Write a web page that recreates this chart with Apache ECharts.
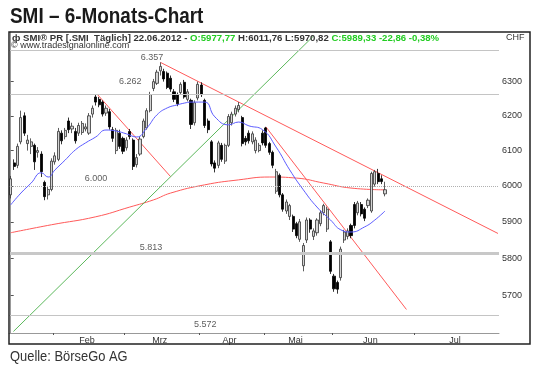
<!DOCTYPE html>
<html><head><meta charset="utf-8">
<script src="https://cdn.jsdelivr.net/npm/echarts@6/dist/echarts.min.js"></script>
<style>html,body{margin:0;padding:0;background:#fff}#c{width:540px;height:372px}</style>
</head><body><div id="c"></div>
<script>
// ---- Daily candles (SMI, 13.01.2012 - 22.06.2012) ----
const opens = [5975,6065,6058,6125,6200,6120,6112,6115,6095,6090,6010,5975,5990,6068,6075,6150,6140,6185,6162,6155,6150,6152,6162,6150,6205,6255,6248,6240,6208,6212,6160,6100,6150,6135,6108,6155,6130,6060,6090,6140,6165,6215,6280,6295,6332,6330,6325,6310,6270,6262,6268,6298,6248,6245,6180,6252,6290,6245,6185,6125,6065,6058,6115,6070,6115,6180,6205,6218,6195,6135,6150,6125,6100,6100,6150,6165,6120,6095,5985,6030,5975,5930,5915,5915,5895,5852,5780,5850,5905,5860,5870,5895,5925,5880,5845,5752,5735,5748,5850,5860,5890,5948,5925,5948,5935,5945,5930,6005,6035,6020,5977.77];
const closes = [6020,6055,6112,6195,6150,6130,6125,6068,6100,6040,5970,5990,6070,6085,6155,6128,6158,6160,6170,6128,6172,6178,6168,6200,6222,6240,6232,6205,6222,6168,6135,6158,6112,6098,6130,6140,6055,6080,6133,6185,6215,6262,6300,6328,6345,6308,6283,6278,6248,6235,6292,6255,6270,6175,6238,6292,6262,6172,6160,6062,6050,6122,6075,6115,6198,6205,6222,6230,6120,6125,6128,6148,6130,6115,6122,6115,6095,6058,6040,5975,5935,5955,5945,5880,5862,5900,5835,5905,5880,5875,5905,5925,5945,5935,5765,5718,5717,5825,5872,5875,5862,5890,5952,5922,5910,5960,6035,6040,6012,6012.19,5989.33];
const lows = [5965,6045,6050,6118,6142,6100,6090,6045,6080,6025,5960,5962,5985,6060,6070,6118,6132,6150,6150,6120,6142,6145,6155,6145,6195,6230,6225,6198,6200,6160,6125,6090,6105,6090,6100,6132,6045,6052,6085,6135,6160,6210,6272,6290,6318,6300,6278,6270,6240,6228,6262,6250,6242,6162,6172,6245,6255,6165,6150,6055,6038,6050,6068,6062,6110,6172,6198,6210,6112,6115,6120,6118,6092,6095,6115,6108,6088,6050,5978,5968,5928,5922,5905,5872,5855,5845,5765,5842,5870,5850,5862,5888,5918,5872,5758,5710,5705,5740,5842,5852,5855,5882,5918,5915,5902,5938,5925,5998,6005,6005,5970.82];
const highs = [6028,6075,6120,6215,6210,6145,6135,6120,6110,6098,6015,6000,6078,6095,6165,6158,6165,6195,6180,6165,6180,6185,6178,6208,6230,6262,6255,6245,6230,6220,6168,6165,6160,6140,6138,6162,6135,6090,6140,6192,6222,6270,6308,6335,6357,6338,6330,6318,6278,6268,6298,6305,6278,6250,6245,6300,6298,6250,6192,6130,6072,6128,6122,6120,6205,6212,6230,6240,6200,6142,6158,6155,6138,6122,6158,6168,6125,6100,6048,6035,5980,5962,5950,5920,5900,5908,5842,5912,5910,5882,5910,5932,5950,5942,5850,5758,5740,5832,5878,5882,5895,5955,5958,5955,5940,5965,6040,6045,6048,6030,6011.76];

// ---- Calendar (trading days, SIX holidays) ----
const firstDay = '2012-01-13';
const holidays = ['2012-04-06','2012-04-09','2012-05-01','2012-05-17','2012-05-28'];
const slotCount = 144;

// ---- Axis ticks / labels ----
const yTicks = [5700,5800,5900,6000,6100,6200,6300];
const monthLabels = ['Feb','Mrz','Apr','Mai','Jun','Jul'];
const monthTickPos = [12.5,33.5,55.5,74.5,94.5,118.5];
const monthLabelPos = [22.4,43.8,64.3,83.7,105.7,130.6];

// ---- Indicators ----
const maShortIdx = [0,3,6,9,11,13,16,19,22,25,28,31,34,37,40,43,46,49,51,53,57,60,64,67,70,74,78,82,86,90,94,97,100,104,107,110];
const maShortVal = [5947,5980,6008,6037,6025,6045,6073,6102,6122,6139,6159,6156,6148,6139,6165,6203,6223,6232,6237,6240,6240,6197,6174,6182,6171,6160,6110,6045,5989,5941,5905,5878,5872,5886,5905,5930];
const maLongIdx = [0,12,25,35,42,47,57,67,76,84,92,100,110];
const maLongVal = [5870,5892,5914,5941,5961,5980,6003,6017,6025,6022,6008,5994,5989];

// trend lines: [index, value] endpoints
const trendRed1 = [[25.5,6262],[47,6026]];
const trendRed2 = [[44,6357],[143.2,5868]];
const trendRed3 = [[75,6168],[116.3,5663]];
const trendGreen = [[0.8,5605],[89,6436]];

// horizontal levels
const levelTop = 6392, level6262 = 6262, level6000 = 6000, level5813 = 5813, levelLow = 5649;
const levelTexts = ['6.357','6.262','6.000','5.813','5.572'];
const levelTextIdx = [41.5,35.1,25.1,41.2,57.2];
const levelTextVal = [6371,6299,6020,5829,5622];

// build dates
function buildDates(){
  const out=[]; const d=new Date(firstDay+'T12:00:00Z');
  while(out.length<slotCount){
    const wd=d.getUTCDay(); const s=d.toISOString().slice(0,10);
    if(wd!==0&&wd!==6&&holidays.indexOf(s)<0) out.push(s);
    d.setUTCDate(d.getUTCDate()+1);
  }
  return out;
}
const dates = buildDates();
const candles = opens.map((o,i)=>[o,closes[i],lows[i],highs[i]]);
const fmt = v => v.toFixed(2).replace('.',',');
const last = opens.length-1;
const chg = closes[last]-closes[last-1];
const pct = chg/closes[last-1]*100;
const d = dates[last].split('-');
const headerDate = d[2]+'.'+d[1]+'.'+d[0];

const FONT = 'Liberation Sans, Arial, sans-serif';
const chart = echarts.init(document.getElementById('c'), null, {renderer:'canvas'});
chart.setOption({
  animation:false,
  backgroundColor:'#fff',
  title:[
    {text:'{k|ф SMI® PR [.SMI  Täglich] '+headerDate+' - }{g|O:'+fmt(opens[last])+' }{k|H:'+fmt(highs[last])+' L:'+fmt(lows[last])+' }{g|C:'+fmt(closes[last])+' '+fmt(chg)+' '+fmt(pct)+'%}',
     left:12, top:33, padding:0,
     textStyle:{rich:{k:{fontFamily:FONT,fontSize:9.6,color:'#333'},g:{fontFamily:FONT,fontSize:9.6,color:'#22cc22'}}}},
    {text:'© www.tradesignalonline.com', left:11, top:41, padding:0, textStyle:{fontFamily:FONT,fontSize:9,fontWeight:'normal',color:'#333'}},
    {text:'CHF', left:506, top:33, padding:0, textStyle:{fontFamily:FONT,fontSize:9,fontWeight:'normal',color:'#333'}}
  ],
  graphic:[
    {type:'text', left:10, top:6, scaleX:0.86, style:{text:'SMI – 6-Monats-Chart', font:'bold 22px '+FONT, fill:'#1a1a1a'}},
    {type:'text', left:10, top:349, scaleX:0.86, style:{text:'Quelle: BörseGo AG', font:'15px '+FONT, fill:'#333'}},
    {type:'rect', shape:{x:9,y:32,width:521,height:312}, style:{fill:'none',stroke:'#222',lineWidth:1.5}, z:100}
  ],
  grid:{left:9, right:41, top:32, bottom:39, containLabel:false},
  xAxis:[
    {type:'category', data:dates, boundaryGap:true, show:false},
    {type:'value', min:-0.5, max:slotCount-0.5, position:'bottom',
     axisLine:{show:true, lineStyle:{color:'#999',width:1}},
     axisTick:{show:true, customValues:monthTickPos, length:2, lineStyle:{color:'#555'}},
     axisLabel:{show:true, customValues:monthLabelPos, margin:3, fontSize:9, fontFamily:FONT, color:'#333',
       formatter:v=>{const k=monthLabelPos.findIndex(p=>Math.abs(p-v)<0.01); return k>=0?monthLabels[k]:'';}},
     splitLine:{show:false}}
  ],
  yAxis:[{type:'log', logBase:10, min:5601, max:6448, position:'right',
    axisLine:{show:true, lineStyle:{color:'#999'}},
    axisTick:{show:true, customValues:yTicks, length:3, lineStyle:{color:'#555'}},
    axisLabel:{show:true, customValues:yTicks, margin:3, fontSize:9, fontFamily:FONT, color:'#333', formatter:v=>String(Math.round(v))},
    splitLine:{show:false}, minorTick:{show:false}, minorSplitLine:{show:false}}],
  series:[
    {type:'line', xAxisIndex:1, yAxisIndex:0, symbol:'none', silent:true, z:1,
     data:[], lineStyle:{opacity:0},
     markLine:{silent:true, symbol:'none', label:{show:false}, animation:false,
       data:[
         {yAxis:levelTop, lineStyle:{color:'#c4c4c4',width:1,type:'solid'}},
         {yAxis:level6262, lineStyle:{color:'#c4c4c4',width:1,type:'solid'}},
         {yAxis:level6000, lineStyle:{color:'#b0b0b0',width:1,type:[1,1]}},
         {yAxis:level5813, lineStyle:{color:'#c8c8c8',width:3,type:'solid'}},
         {yAxis:levelLow, lineStyle:{color:'#c4c4c4',width:1,type:'solid'}}
       ]}},
    {name:'MA200', type:'line', xAxisIndex:1, symbol:'none', smooth:true, z:3,
     data:maLongIdx.map((x,i)=>[x,maLongVal[i]]), lineStyle:{color:'#ff5a5a',width:1}},
    {name:'Trend1', type:'line', xAxisIndex:1, symbol:'none', z:3, data:trendRed1, lineStyle:{color:'#ff5a5a',width:1}},
    {name:'Trend2', type:'line', xAxisIndex:1, symbol:'none', z:3, data:trendRed2, lineStyle:{color:'#ff5a5a',width:1}},
    {name:'Trend3', type:'line', xAxisIndex:1, symbol:'none', z:3, data:trendRed3, lineStyle:{color:'#ff5a5a',width:1}},
    {name:'TrendG', type:'line', xAxisIndex:1, symbol:'none', z:3, data:trendGreen, lineStyle:{color:'#5cb85c',width:1}},
    {name:'SMI', type:'candlestick', xAxisIndex:0, yAxisIndex:0, z:4, data:candles, barWidth:2.6,
     itemStyle:{color:'#d4d4d4', color0:'#000', borderColor:'#333', borderColor0:'#000', borderWidth:0.8}},
    {name:'MA', type:'line', xAxisIndex:1, symbol:'none', smooth:true, z:5,
     data:maShortIdx.map((x,i)=>[x,maShortVal[i]]), lineStyle:{color:'#5c5cff',width:1}},
    {name:'Levels', type:'scatter', xAxisIndex:1, symbolSize:0, z:6,
     data:levelTexts.map((t,i)=>({name:t, value:[levelTextIdx[i],levelTextVal[i]]})),
     label:{show:true, position:'inside', formatter:'{b}', fontSize:9, fontFamily:FONT, color:'#333'}}
  ]
});
</script></body></html>
